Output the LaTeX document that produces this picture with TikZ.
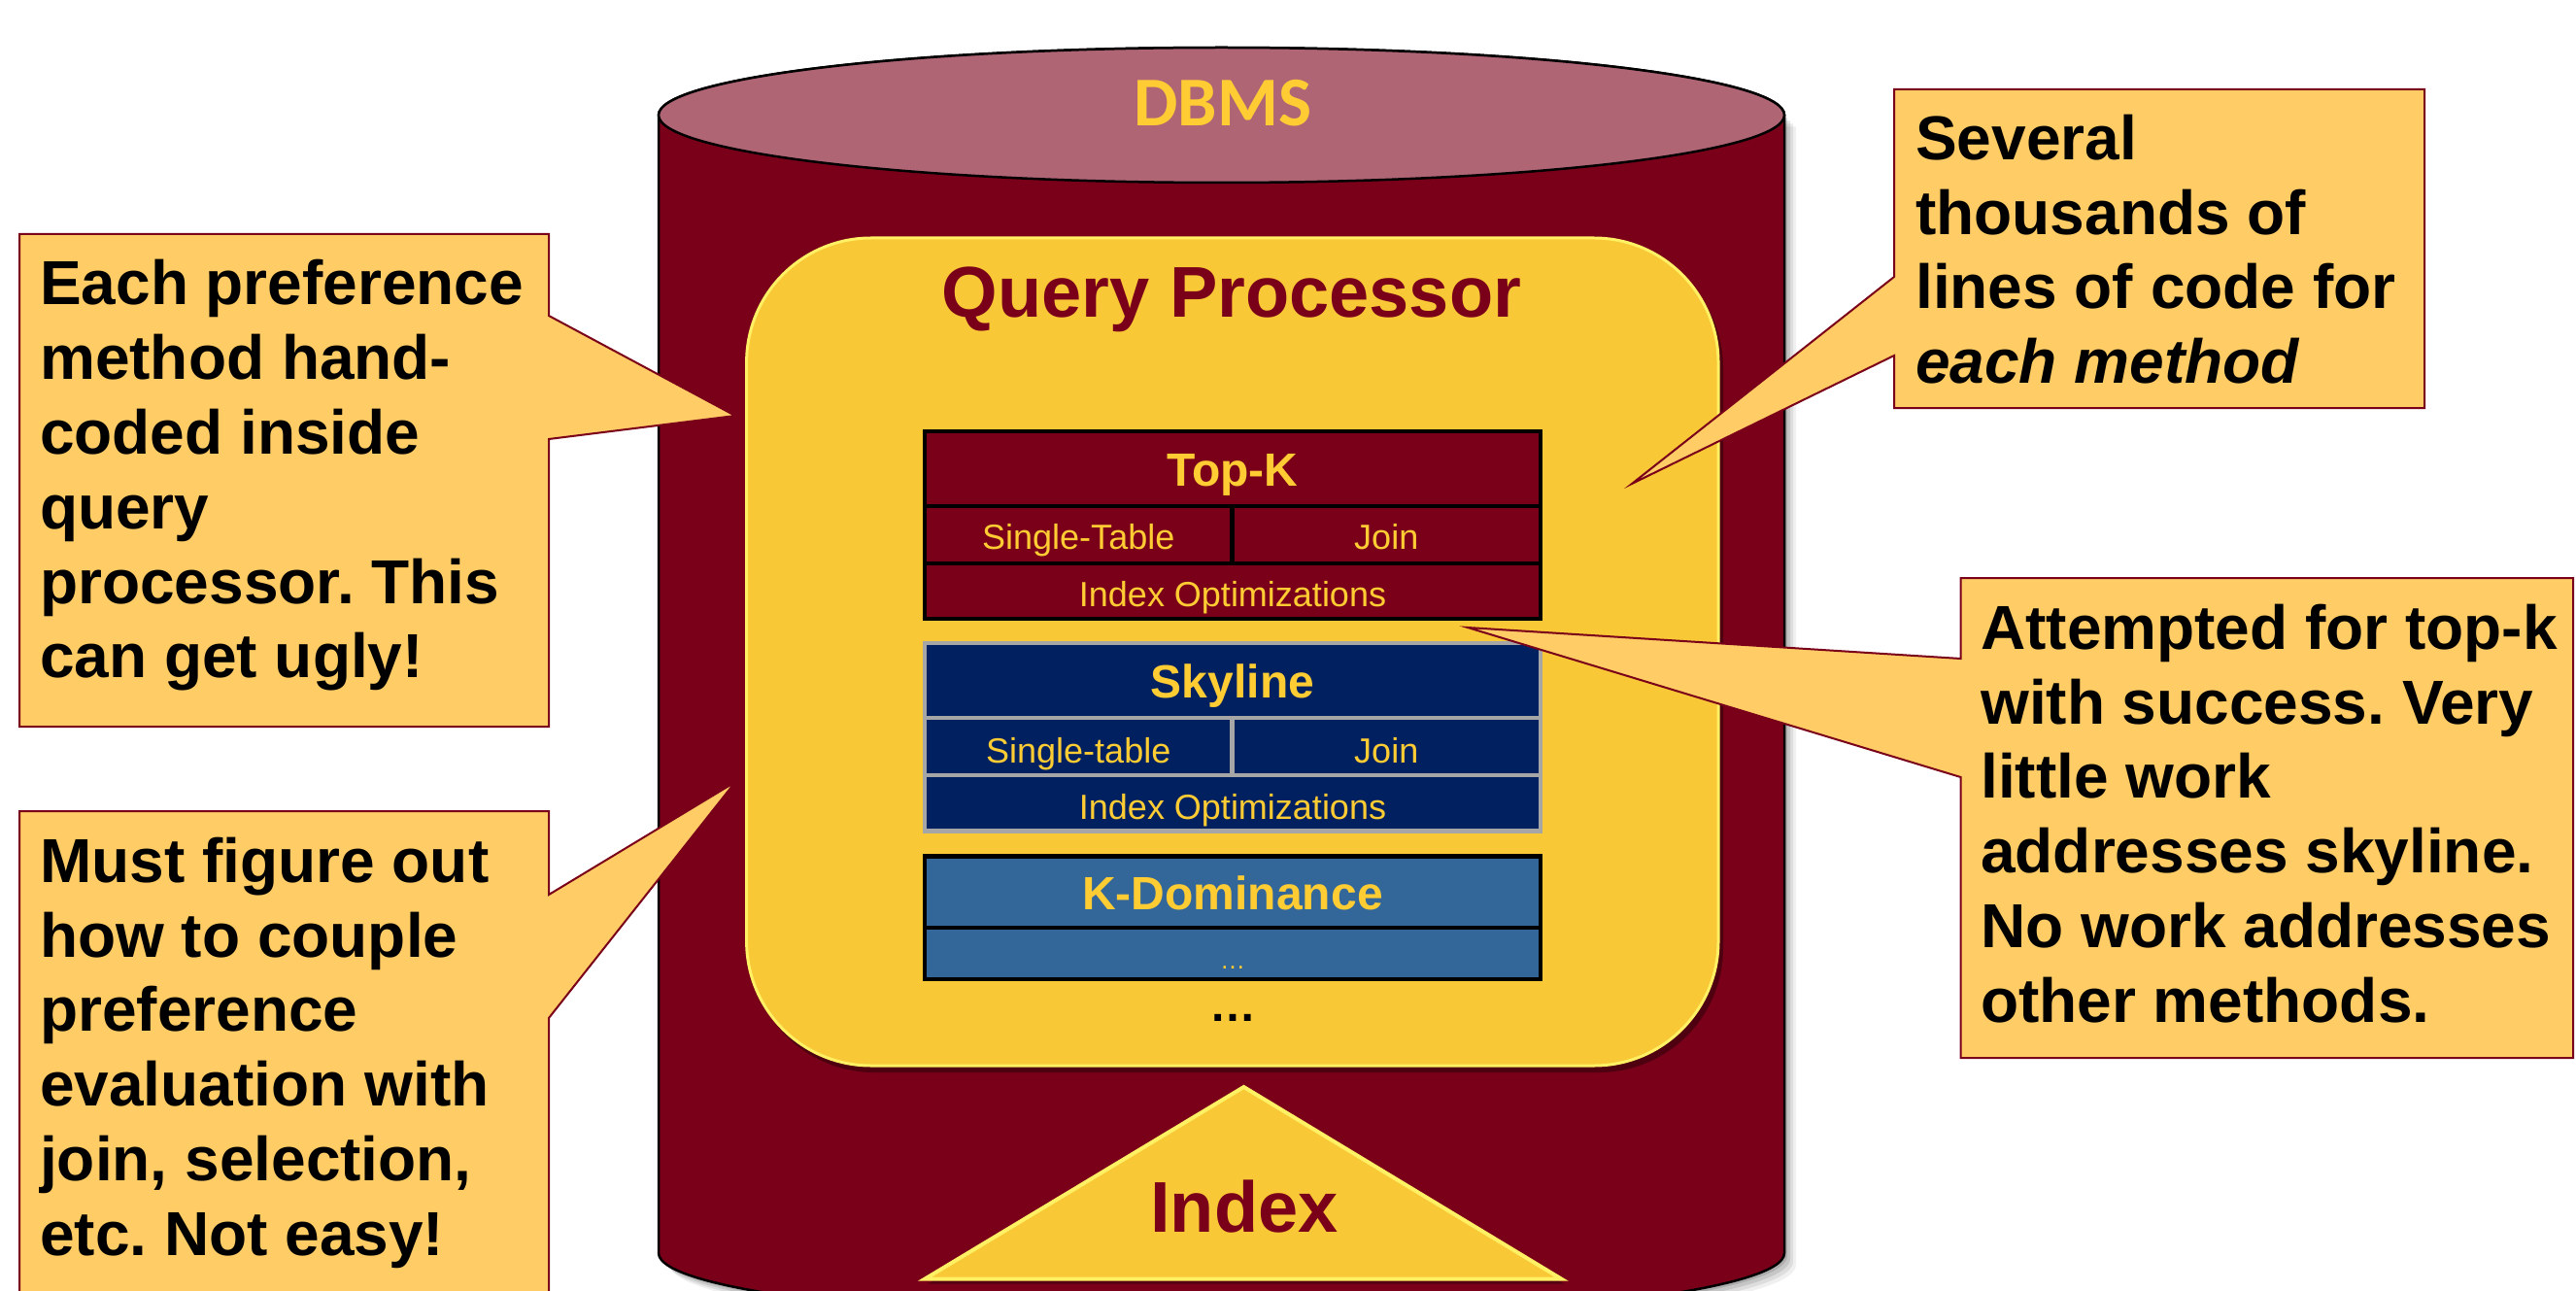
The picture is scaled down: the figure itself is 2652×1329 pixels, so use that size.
\documentclass[tikz,border=0pt]{standalone}
\usepackage{fontspec}
\setmainfont{Liberation Sans}
\newfontfamily\calibfont{Carlito}
\frenchspacing
\definecolor{maroon}{HTML}{7A0019}
\definecolor{lidc}{HTML}{AF6574}
\definecolor{gold}{HTML}{FFCC33}
\definecolor{qpy}{HTML}{F8C836}
\definecolor{qphl}{HTML}{FFF064}
\definecolor{navy}{HTML}{002060}
\definecolor{steel}{HTML}{336699}
\definecolor{callf}{HTML}{FFCC66}
\definecolor{skyg}{HTML}{A6A6A6}
\begin{document}
\begin{tikzpicture}[x=1pt,y=-1pt,
  cell/.style={draw, line width=4.5pt, inner sep=0pt, outer sep=0pt, anchor=north west, text=gold, text depth=0pt},
  tkcell/.style={cell, fill=maroon, draw=black},
  skycell/.style={cell, fill=navy, draw=skyg},
  kdcell/.style={cell, fill=steel, draw=black},
  headtxt/.style={font=\fontsize{48}{56}\selectfont\bfseries},
  subtxt/.style={font=\fontsize{36}{42}\selectfont},
  calloutshape/.style={fill=callf, draw=maroon, line width=2pt, line join=miter},
  callouttext/.style={anchor=north west, inner sep=0pt, align=left, font=\fontsize{64}{76.8}\selectfont\bfseries\frenchspacing, text=black}
]
\useasboundingbox (0,0) rectangle (2652,1329);
\clip (0,0) rectangle (2652,1329);
\fill[white] (0,0) rectangle (2652,1329);

% ---- cylinder (DBMS) ----
\foreach \s/\o in {12/0.06, 9/0.08, 6/0.10, 3/0.12}{
  \fill[black, opacity=\o, shift={(\s,\s)}] (678,118.5) -- (678,1290)
    arc[start angle=180,end angle=360,x radius=579.5pt,y radius=69.5pt] -- (1837,118.5) -- cycle;
}
\filldraw[fill=maroon, draw=black, line width=2.5pt] (678,118.5) -- (678,1290)
  arc[start angle=180,end angle=360,x radius=579.5pt,y radius=69.5pt] -- (1837,118.5)
  arc[start angle=0,end angle=180,x radius=579.5pt,y radius=69.5pt] -- cycle;
\filldraw[fill=lidc, draw=black, line width=2.5pt] (1257.5,118.5) ellipse[x radius=579.5pt, y radius=69.5pt];
\node[anchor=base, inner sep=0pt, text=gold, font=\calibfont\fontsize{72}{80}\selectfont\bfseries] (dbms) at (1258.7,130) {DBMS};

% ---- query processor box ----
\fill[black, opacity=.35, rounded corners=128pt] (772,251) rectangle (1774,1104);
\node[fill=qpy, draw=qphl, line width=3pt, rounded corners=128pt, minimum width=1000.4pt, minimum height=852pt, inner sep=0pt] (qp) at (1268.8,671) {};
\node[anchor=base, inner sep=0pt, text=maroon, font=\fontsize{74}{80}\selectfont\bfseries] (qptitle) at (1268,326.5) {Query Processor};

% ---- Top-K ----
\node[tkcell, headtxt, minimum width=634pt, minimum height=77pt, text height=35pt] (tk) at (952,444) {Top-K};
\node[tkcell, subtxt, minimum width=316.5pt, minimum height=59pt, text height=29pt] (tks) at (952,521) {Single-Table};
\node[tkcell, subtxt, minimum width=317.5pt, minimum height=59pt, text height=29pt] (tkj) at (1268.5,521) {Join};
\node[tkcell, subtxt, minimum width=634pt, minimum height=57pt, text height=32pt] (tki) at (952,580) {Index Optimizations};

% ---- Skyline ----
\node[skycell, headtxt, minimum width=634pt, minimum height=77pt, text height=36pt] (sk) at (952,662) {Skyline};
\node[skycell, subtxt, minimum width=316.5pt, minimum height=59pt, text height=33pt] (sks) at (952,739) {Single-table};
\node[skycell, subtxt, minimum width=317.5pt, minimum height=59pt, text height=33pt] (skj) at (1268.5,739) {Join};
\node[skycell, subtxt, minimum width=634pt, minimum height=57.5pt, text height=32.5pt] (ski) at (952,798) {Index Optimizations};

% ---- K-Dominance ----
\node[kdcell, headtxt, minimum width=634pt, minimum height=73.5pt, text height=35.5pt] (kd) at (952,881.5) {K-Dominance};
\node[kdcell, font=\fontsize{26}{30}\selectfont, minimum width=634pt, minimum height=53pt, text height=31pt] (kdm) at (952,955) {…};
\node[anchor=base, inner sep=0pt, font=\fontsize{48}{56}\selectfont\bfseries] (more) at (1269,1051) {…};

% ---- Index triangle ----
\coordinate (idxL) at (952,1316.7);
\coordinate (idxT) at (1280.5,1119);
\coordinate (idxR) at (1607.6,1316.7);
\fill[black, opacity=.3] ([shift={(3,5)}]idxL) -- ([shift={(3,5)}]idxT) -- ([shift={(3,5)}]idxR) -- cycle;
\filldraw[fill=qpy, draw=qphl, line width=4pt, line join=miter] (idxL) -- (idxT) -- (idxR) -- cycle;
\node[anchor=base, inner sep=0pt, text=maroon, font=\fontsize{74}{80}\selectfont\bfseries] (index) at (1281,1268) {Index};

% ---- callouts ----
\coordinate (tip1) at (757,428);
\coordinate (tip2) at (757,805);
\coordinate (tip3) at (1680,498);
\coordinate (tip4) at (1511,646);
\draw[calloutshape] (20,241) -- (565,241) -- (565,325) -- (tip1) -- (565,452) -- (565,748) -- (20,748) -- cycle;
\draw[calloutshape] (20,835) -- (565,835) -- (565,921) -- (tip2) -- (565,1048) -- (565,1345) -- (20,1345) -- cycle;
\draw[calloutshape] (1950,92) -- (2496,92) -- (2496,420) -- (1950,420) -- (1950,366) -- (tip3) -- (1950,285) -- cycle;
\draw[calloutshape] (2018.5,595) -- (2649,595) -- (2649,1089) -- (2018.5,1089) -- (2018.5,800) -- (tip4) -- (2018.5,678) -- cycle;

\node[callouttext] (c1) at (41,253.6) {\rule{0pt}{60pt}Each preference\\method hand-\\coded inside\\query\\processor. This\\can get ugly!};
\node[callouttext] (c2) at (41,848) {\rule{0pt}{60pt}Must figure out\\how to couple\\preference\\evaluation with\\join, selection,\\etc. Not easy!};
\node[callouttext] (c3) at (1972,104) {\rule{0pt}{60pt}Several\\thousands of\\lines of code for\\\textit{each method}};
\node[callouttext] (c4) at (2039,608) {\rule{0pt}{60pt}Attempted for top-k\\with success. Very\\little work\\addresses skyline.\\No work addresses\\other methods.};
\end{tikzpicture}
\end{document}
